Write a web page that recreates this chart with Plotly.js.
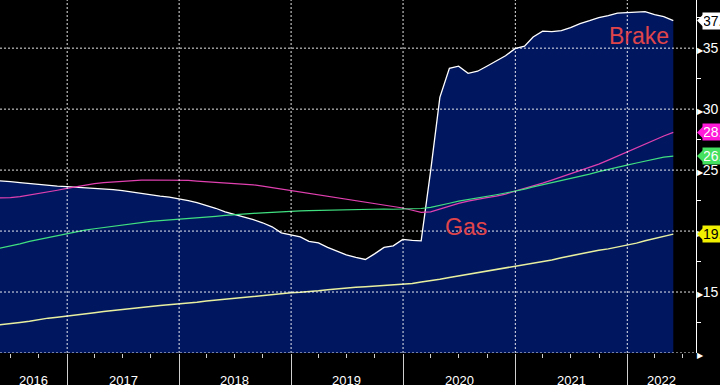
<!DOCTYPE html>
<html>
<head>
<meta charset="utf-8">
<script src="https://cdn.plot.ly/plotly-3.0.1.min.js"></script>
<style>html,body{margin:0;padding:0;background:#000;}#chart{width:720px;height:385px;}</style>
</head>
<body>
<div id="chart"></div>
<script>
// Month-end observation dates
const dates = [
 '2016-04-30','2016-05-31','2016-06-30','2016-07-31','2016-08-31','2016-09-30','2016-10-31','2016-11-30','2016-12-31',
 '2017-01-31','2017-02-28','2017-03-31','2017-04-30','2017-05-31','2017-06-30','2017-07-31','2017-08-31','2017-09-30','2017-10-31','2017-11-30','2017-12-31',
 '2018-01-31','2018-02-28','2018-03-31','2018-04-30','2018-05-31','2018-06-30','2018-07-31','2018-08-31','2018-09-30','2018-10-31','2018-11-30','2018-12-31',
 '2019-01-31','2019-02-28','2019-03-31','2019-04-30','2019-05-31','2019-06-30','2019-07-31','2019-08-31','2019-09-30','2019-10-31','2019-11-30','2019-12-31',
 '2020-01-31','2020-02-29','2020-03-31','2020-04-30','2020-05-31','2020-06-30','2020-07-31','2020-08-31','2020-09-30','2020-10-31','2020-11-30','2020-12-31',
 '2021-01-31','2021-02-28','2021-03-31','2021-04-30','2021-05-31','2021-06-30','2021-07-31','2021-08-31','2021-09-30','2021-10-31','2021-11-30','2021-12-31',
 '2022-01-31','2022-02-28','2022-03-31','2022-04-30','2022-05-31'
];

// Brake (white line, navy area)
const brake = [
 24.18,24.14,24.05,23.97,23.89,23.81,23.77,23.68,23.64,
 23.60,23.56,23.52,23.48,23.40,23.31,23.19,23.07,22.94,22.86,22.78,22.65,
 22.49,22.33,22.12,21.87,21.58,21.38,21.17,20.93,20.68,20.35,19.86,19.69,
 19.53,19.16,19.03,18.66,18.37,18.05,17.84,17.67,18.13,18.66,18.79,19.32,
 19.24,19.20,24.96,30.97,33.35,33.52,32.94,33.11,33.52,33.93,34.38,34.96,
 35.16,35.91,36.40,36.36,36.44,36.69,37.02,37.26,37.51,37.67,37.88,37.92,
 37.96,37.99,37.76,37.59,37.26
];

// Magenta line
const magenta = [
 22.70,22.71,22.74,22.82,22.94,23.11,23.23,23.35,23.50,
 23.64,23.81,23.89,23.97,24.03,24.07,24.11,24.17,24.19,24.19,24.19,24.18,
 24.15,24.10,24.05,24.01,23.97,23.95,23.89,23.79,23.68,23.56,23.44,23.33,
 23.19,23.07,22.94,22.82,22.71,22.60,22.49,22.38,22.28,22.16,22.03,21.89,
 21.71,21.54,21.57,21.81,22.08,22.27,22.45,22.61,22.74,22.86,23.03,23.27,
 23.48,23.68,23.93,24.18,24.44,24.71,24.96,25.25,25.49,25.82,26.15,26.48,
 26.81,27.18,27.51,27.80,28.09
];

// Green line
const green = [
 18.46,18.62,18.79,18.95,19.16,19.32,19.49,19.65,19.80,
 19.94,20.08,20.19,20.29,20.42,20.52,20.61,20.70,20.79,20.86,20.91,20.95,
 21.03,21.09,21.16,21.21,21.28,21.35,21.40,21.45,21.50,21.55,21.59,21.62,
 21.65,21.68,21.70,21.73,21.75,21.77,21.78,21.80,21.81,21.81,21.79,21.79,
 21.81,21.85,21.94,22.08,22.28,22.45,22.57,22.72,22.86,22.98,23.12,23.27,
 23.44,23.62,23.79,23.97,24.16,24.34,24.49,24.67,24.88,25.04,25.21,25.41,
 25.58,25.74,25.91,26.07,26.15
];

// Yellow line
const yellow = [
 12.24,12.35,12.45,12.51,12.61,12.74,12.86,12.94,13.02,
 13.11,13.23,13.31,13.40,13.49,13.60,13.70,13.77,13.82,13.89,13.95,13.99,
 14.08,14.16,14.26,14.34,14.42,14.49,14.57,14.66,14.73,14.80,14.88,14.94,
 14.98,15.02,15.10,15.18,15.26,15.33,15.39,15.43,15.48,15.53,15.58,15.63,
 15.70,15.82,15.92,16.05,16.19,16.32,16.42,16.56,16.73,16.86,16.99,17.12,
 17.24,17.39,17.51,17.63,17.82,17.98,18.13,18.28,18.42,18.54,18.68,18.87,
 19.01,19.20,19.40,19.59,19.75
];

// Axes
const yTickVals = [10, 15, 20, 25, 30, 35];
const yTickLabels = ['', '15', '20', '25', '30', '35'];
const yMinorVals = [12.5, 17.5, 22.5, 27.5, 32.5, 37.5];
const yearStarts = ['2017-01-01','2018-01-01','2019-01-01','2020-01-01','2021-01-01','2022-01-01'];
const yearLabelPos = ['2016-09-13','2017-07-02','2018-07-02','2019-07-02','2020-07-02','2021-07-02','2022-04-21'];
const yearLabels = ['2016','2017','2018','2019','2020','2021','2022'];
const xRange = ['2016-05-27', '2022-08-13'];
const yRange = [10, 38.95];

const NAVY = '#00175f';
const FONT = 'Liberation Sans, Arial, sans-serif';

const traces = [
  {x: dates, y: brake, name: 'Brake', type: 'scatter', mode: 'lines', fill: 'tozeroy',
   fillcolor: NAVY, line: {color: '#ffffff', width: 1.3}},
  {x: dates, y: magenta, name: 'Series 2', type: 'scatter', mode: 'lines', line: {color: '#e040b0', width: 1.2}},
  {x: dates, y: green, name: 'Gas', type: 'scatter', mode: 'lines', line: {color: '#40e080', width: 1.2}},
  {x: dates, y: yellow, name: 'Series 4', type: 'scatter', mode: 'lines', line: {color: '#e8f0a0', width: 1.5}}
];

const gridStyle = {color: 'rgba(255,255,255,0.9)', width: 1, dash: '2px,2px'};
const shapes = [];
yTickVals.forEach(v => shapes.push({type: 'line', layer: 'above', xref: 'paper', x0: 0, x1: 1, yref: 'y', y0: v, y1: v, line: gridStyle}));
yearStarts.forEach(d => shapes.push({type: 'line', layer: 'above', xref: 'x', x0: d, x1: d, yref: 'paper', y0: 0, y1: 1, line: gridStyle}));

const annotations = [];
yearLabels.forEach((t, i) => annotations.push({
  xref: 'x', x: yearLabelPos[i], yref: 'paper', y: -0.078, yanchor: 'middle', xanchor: 'center',
  text: t, showarrow: false, font: {family: FONT, size: 13, color: '#ffffff'}
}));
annotations.push({xref: 'x', x: '2022-02-09', yref: 'y', y: 35.98, text: 'Brake', showarrow: false,
  font: {family: FONT, size: 23, color: '#e0454a'}});
annotations.push({xref: 'x', x: '2020-07-24', yref: 'y', y: 20.32, text: 'Gas', showarrow: false,
  font: {family: FONT, size: 23, color: '#e0454a'}});

const tags = [
  {series: brake, bg: '#ffffff', fg: '#000000'},
  {series: magenta, bg: '#ff1ad9', fg: '#ffffff'},
  {series: green, bg: '#44e060', fg: '#ffffff'},
  {series: yellow, bg: '#f0f000', fg: '#000000'}
];
tags.forEach(t => {
  const last = t.series[t.series.length - 1];
  annotations.push({
    xref: 'paper', x: 697 / 696, yref: 'y', y: last,
    ax: 5, ay: 0, showarrow: true, arrowhead: 1, arrowsize: 2.3, arrowwidth: 1, arrowcolor: t.bg, standoff: 0,
    xanchor: 'left', yanchor: 'middle', text: last.toFixed(2), bgcolor: t.bg, borderpad: 0,
    font: {family: FONT, size: 14, color: t.fg}
  });
});

const layout = {
  width: 720, height: 385,
  margin: {l: 0, r: 24, t: 0, b: 32, pad: 0},
  paper_bgcolor: '#000000', plot_bgcolor: '#000000',
  showlegend: false,
  xaxis: {
    type: 'date', range: xRange, showgrid: false, zeroline: false, showline: false,
    tickmode: 'array', tickvals: yearStarts, showticklabels: false,
    ticks: 'outside', ticklen: 32, tickwidth: 1, tickcolor: '#cfcfcf',
    minor: {ticks: 'outside', ticklen: 4, tickwidth: 1, tickcolor: '#cfcfcf', dtick: 'M3', tick0: '2016-01-01', showgrid: false}
  },
  yaxis: {
    side: 'right', range: yRange, showgrid: false, zeroline: false,
    showline: true, linecolor: '#ffffff', linewidth: 1,
    tickmode: 'array', tickvals: yTickVals,
    ticktext: yTickLabels.map(s => '<span style="font-size:8px">\u25B6</span>' + s),
    ticks: '', ticklabelstandoff: -3, tickfont: {family: FONT, size: 14, color: '#ffffff'},
    minor: {tickmode: 'array', tickvals: yMinorVals, ticks: 'outside', ticklen: 4, tickwidth: 1, tickcolor: '#ffffff', showgrid: false}
  },
  shapes: shapes,
  annotations: annotations
};

Plotly.newPlot('chart', traces, layout, {displayModeBar: false, staticPlot: true});
</script>
</body>
</html>
